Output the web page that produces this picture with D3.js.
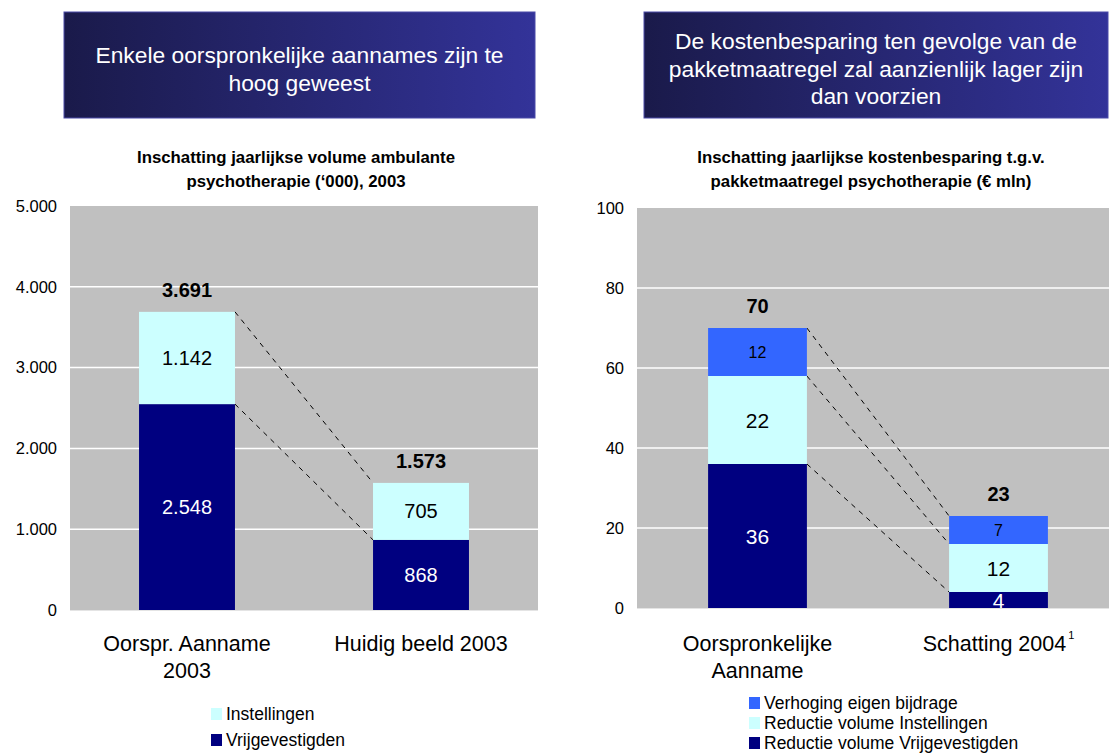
<!DOCTYPE html>
<html lang="nl">
<head>
    <meta charset="UTF-8">
    <title>Psychotherapie</title>
    <script src="https://d3js.org/d3.v7.min.js"></script>
    <style>
        body { margin: 0; background: #fff; }
        svg { display: block; font-family: "Liberation Sans", Arial, sans-serif; }
        .tick-label { font-size: 16.5px; fill: #000; }
        .cat-label { font-size: 21.5px; fill: #000; }
        .title { font-size: 16.8px; font-weight: bold; fill: #000; }
        .header { font-size: 22.8px; fill: #fff; }
        .legend text { font-size: 17.5px; fill: #000; }
        .total { font-size: 20px; font-weight: bold; fill: #000; }
    </style>
</head>
<body>
<svg width="1109" height="754"></svg>
<script>
    // left panel: volume ('000)
    const leftCategories = [["Oorspr. Aanname", "2003"], ["Huidig beeld 2003"]];
    const leftVrijgevestigden = [2548, 868];
    const leftInstellingen = [1142, 705];
    const leftTotals = [3691, 1573];
    const leftTicks = [0, 1000, 2000, 3000, 4000, 5000];
    const leftLegend = ["Instellingen", "Vrijgevestigden"];

    // right panel: kostenbesparing (€ mln)
    const rightCategories = [["Oorspronkelijke", "Aanname"], ["Schatting 2004"]];
    const rightVrijgevestigden = [36, 4];
    const rightInstellingen = [22, 12];
    const rightEigenBijdrage = [12, 7];
    const rightTotals = [70, 23];
    const rightTicks = [0, 20, 40, 60, 80, 100];
    const rightLegend = ["Verhoging eigen bijdrage", "Reductie volume Instellingen", "Reductie volume Vrijgevestigden"];

    const NAVY = "#000080", CYAN = "#ccffff", BLUE = "#3366ff", GRAY = "#c0c0c0";

    const nl = d3.formatLocale({decimal: ",", thousands: ".", grouping: [3], currency: ["€", ""]});
    const fmt = nl.format(",d");

    const svg = d3.select("svg");

    // header boxes
    const grad = svg.append("defs").append("linearGradient").attr("id", "hdr");
    grad.append("stop").attr("offset", "0%").attr("stop-color", "#1a1a4a");
    grad.append("stop").attr("offset", "100%").attr("stop-color", "#333399");

    function header(x0, x1, lines, firstY) {
        svg.append("rect")
            .attr("x", x0).attr("y", 12).attr("width", x1 - x0).attr("height", 106)
            .attr("fill", "url(#hdr)").attr("stroke", "#4a4aa8").attr("stroke-width", 1);
        svg.append("text").attr("class", "header").attr("text-anchor", "middle")
            .selectAll("tspan").data(lines).enter().append("tspan")
            .attr("x", (x0 + x1) / 2)
            .attr("y", (d, i) => firstY + i * 27.5)
            .text(d => d);
    }
    header(64, 535, ["Enkele oorspronkelijke aannames zijn te", "hoog geweest"], 63);
    header(644, 1108, ["De kostenbesparing ten gevolge van de", "pakketmaatregel zal aanzienlijk lager zijn", "dan voorzien"], 49);

    function panel(cfg) {
        const g = svg.append("g");
        const x = d3.scaleBand().domain(d3.range(cfg.categories.length))
            .range([cfg.x0, cfg.x1]).paddingInner(0.59).paddingOuter(0.295);
        const y = d3.scaleLinear().domain([0, cfg.ticks[cfg.ticks.length - 1]]).range([cfg.y0, cfg.y1]);

        // title
        g.append("text").attr("class", "title").attr("text-anchor", "middle")
            .selectAll("tspan").data(cfg.title).enter().append("tspan")
            .attr("x", cfg.titleX).attr("y", (d, i) => 163 + i * 24).text(d => d);

        g.append("rect").attr("x", cfg.x0).attr("y", cfg.y1)
            .attr("width", cfg.x1 - cfg.x0).attr("height", cfg.y0 - cfg.y1).attr("fill", GRAY);

        g.selectAll(".grid").data(cfg.ticks.slice(1, -1)).enter().append("line")
            .attr("x1", cfg.x0).attr("x2", cfg.x1)
            .attr("y1", d => y(d)).attr("y2", d => y(d))
            .attr("stroke", "#fff").attr("stroke-width", 1.5);

        g.append("line").attr("x1", cfg.x0).attr("x2", cfg.x1)
            .attr("y1", cfg.y0 + 0.5).attr("y2", cfg.y0 + 0.5).attr("stroke", "#e4e4e4");

        // y axis
        const axis = d3.axisLeft(y).tickValues(cfg.ticks).tickFormat(cfg.fmt).tickSize(0).tickPadding(13);
        const ag = g.append("g").attr("transform", `translate(${cfg.x0},0)`).call(axis);
        ag.select(".domain").remove();
        ag.selectAll("text").attr("class", "tick-label").attr("font-family", null).attr("font-size", null);

        // stacks
        const stacks = cfg.series.map(s => s.values);
        const cum = cfg.categories.map((c, i) => {
            let acc = 0;
            return stacks.map(v => { const lo = acc; acc += v[i]; return [lo, acc]; });
        });

        // dashed connectors
        const bw = x.bandwidth();
        cfg.series.forEach((s, k) => {
            g.append("line")
                .attr("x1", x(0) + bw).attr("y1", y(cum[0][k][1]))
                .attr("x2", x(1)).attr("y2", y(cum[1][k][1]))
                .attr("stroke", "#000").attr("stroke-width", 1).attr("stroke-dasharray", "5,5");
        });

        cfg.series.forEach((s, k) => {
            cfg.categories.forEach((c, i) => {
                const [lo, hi] = cum[i][k];
                g.append("rect").attr("x", x(i)).attr("width", bw)
                    .attr("y", y(hi)).attr("height", y(lo) - y(hi)).attr("fill", s.color);
                g.append("text")
                    .attr("x", x(i) + bw / 2).attr("y", (y(lo) + y(hi)) / 2)
                    .attr("text-anchor", "middle").attr("dominant-baseline", "central")
                    .attr("font-size", s.labelSize).attr("fill", s.textColor)
                    .text(cfg.fmt(s.values[i]));
            });
        });

        // totals
        g.selectAll(".total").data(cfg.totals).enter().append("text")
            .attr("class", "total").attr("text-anchor", "middle")
            .attr("x", (d, i) => x(i) + bw / 2)
            .attr("y", (d, i) => y(cum[i][cum[i].length - 1][1]) - 15)
            .text(d => cfg.fmt(d));

        // category labels
        cfg.categories.forEach((lines, i) => {
            const t = g.append("text").attr("class", "cat-label").attr("text-anchor", "middle");
            lines.forEach((l, j) => {
                t.append("tspan").attr("x", x(i) + bw / 2).attr("y", 651 + j * 27).text(l);
            });
            if (cfg.footnote && i === cfg.footnote.index) {
                t.append("tspan").attr("font-size", 11).attr("dx", 2).attr("dy", -12).text(cfg.footnote.mark);
            }
        });

        // legend
        const lg = g.append("g").attr("class", "legend");
        cfg.legend.forEach((name, j) => {
            const ly = cfg.legendY + j * cfg.legendStep;
            lg.append("rect").attr("x", cfg.legendX).attr("y", ly - 6).attr("width", 11).attr("height", 12)
                .attr("fill", cfg.legendColors[j]);
            lg.append("text").attr("x", cfg.legendX + 15).attr("y", ly).attr("dominant-baseline", "central").text(name);
        });
    }

    panel({
        x0: 70, x1: 538, y0: 610, y1: 206, titleX: 296,
        title: ["Inschatting jaarlijkse volume ambulante", "psychotherapie (‘000), 2003"],
        categories: leftCategories, ticks: leftTicks, totals: leftTotals, fmt: fmt,
        series: [
            {values: leftVrijgevestigden, color: NAVY, textColor: "#fff", labelSize: 20},
            {values: leftInstellingen, color: CYAN, textColor: "#000", labelSize: 20}
        ],
        legend: leftLegend, legendColors: [CYAN, NAVY], legendX: 211, legendY: 714, legendStep: 26
    });

    panel({
        x0: 637, x1: 1119, y0: 608, y1: 208, titleX: 871,
        title: ["Inschatting jaarlijkse kostenbesparing t.g.v.", "pakketmaatregel psychotherapie (€ mln)"],
        categories: rightCategories, ticks: rightTicks, totals: rightTotals, fmt: fmt,
        series: [
            {values: rightVrijgevestigden, color: NAVY, textColor: "#fff", labelSize: 21},
            {values: rightInstellingen, color: CYAN, textColor: "#000", labelSize: 21},
            {values: rightEigenBijdrage, color: BLUE, textColor: "#000", labelSize: 16}
        ],
        footnote: {index: 1, mark: "1"},
        legend: rightLegend, legendColors: [BLUE, CYAN, NAVY], legendX: 749, legendY: 703, legendStep: 20
    });
</script>
</body>
</html>
